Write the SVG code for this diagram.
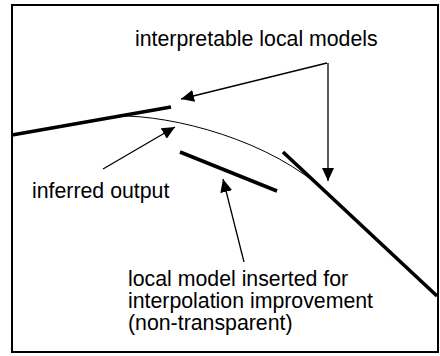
<svg xmlns="http://www.w3.org/2000/svg" width="440" height="356" viewBox="0 0 440 356">
<style>
.txt{font-family:"Liberation Sans",Arial,sans-serif;font-size:21.3px;fill:#000}
.model{stroke:#000;stroke-width:3.6;fill:none;stroke-linecap:butt}
.curve{stroke:#000;stroke-width:1;fill:none}
.arr{stroke:#000;stroke-width:1.3;fill:none;marker-end:url(#ah)}
</style>
<defs>
<marker id="ah" markerUnits="userSpaceOnUse" viewBox="0 0 13 12" refX="13" refY="6" markerWidth="13" markerHeight="12" orient="auto">
<path d="M0,0 L13,6 L0,12 z" fill="#000"/>
</marker>
</defs>
<rect x="12" y="5" width="426" height="347" fill="#fff" stroke="#000" stroke-width="2"/>
<g id="inferred-curve"><path class="curve" d="M118,116 C172,115 272,140 328,194"/></g>
<g id="local-model-left"><line class="model" x1="12" y1="135" x2="171" y2="107"/></g>
<g id="local-model-right"><line class="model" x1="283" y1="152" x2="437" y2="296"/></g>
<g id="local-model-inserted"><line class="model" x1="180" y1="152" x2="277" y2="191"/></g>
<g id="label-interpretable"><text class="txt" x="135" y="46">interpretable local models</text></g>
<g id="label-inferred"><text class="txt" x="32" y="198">inferred output</text></g>
<g id="label-inserted"><text class="txt" x="128" y="286">local model inserted for</text><text class="txt" x="128" y="308">interpolation improvement</text><text class="txt" x="128" y="330">(non-transparent)</text></g>
<g id="connectors">
<line class="arr" x1="327" y1="63" x2="181" y2="99"/>
<line class="arr" x1="328" y1="63" x2="328" y2="181"/>
<line class="arr" x1="103" y1="169" x2="175" y2="127"/>
<line class="arr" x1="244" y1="262" x2="223" y2="179"/>
</g>
</svg>
